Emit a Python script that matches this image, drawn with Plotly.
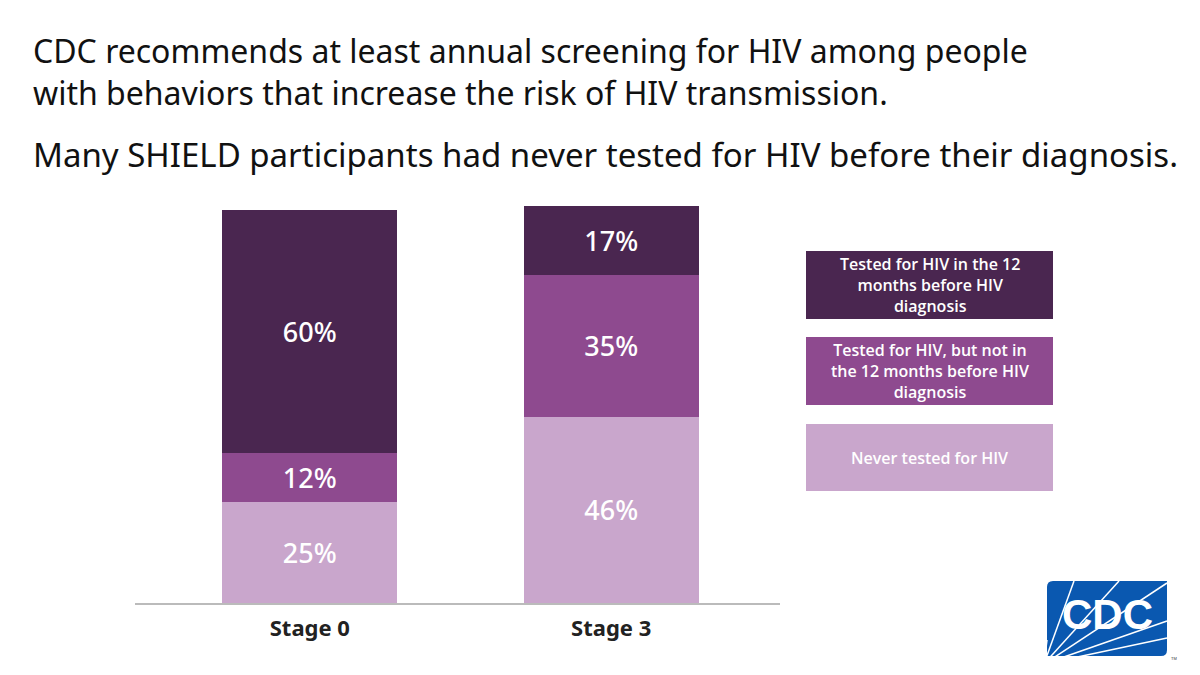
import plotly.graph_objects as go

categories = ["Stage 0", "Stage 3"]
series_names = [
    "Never tested for HIV",
    "Tested for HIV, but not in the 12 months before HIV diagnosis",
    "Tested for HIV in the 12 months before HIV diagnosis",
]
never_tested = [25, 46]
tested_not_12 = [12, 35]
tested_12 = [60, 17]
colors = ["#C9A6CC", "#8E4A8F", "#4A2650"]
legend_labels = [
    "Tested for HIV in the 12<br>months before HIV<br>diagnosis",
    "Tested for HIV, but not in<br>the 12 months before HIV<br>diagnosis",
    "Never tested for HIV",
]
legend_colors = ["#4A2650", "#8E4A8F", "#C9A6CC"]
title_main = "CDC recommends at least annual screening for HIV among people<br>with behaviors that increase the risk of HIV transmission."
title_sub = "Many SHIELD participants had never tested for HIV before their diagnosis."

W, H = 1200, 675
L, R, T, B = 135, 780, 200, 603

def px(x):
    return (x - L) / (R - L)

def py(y):
    return (B - y) / (B - T)

fig = go.Figure()
for name, vals, col in zip(series_names, [never_tested, tested_not_12, tested_12], colors):
    fig.add_trace(go.Bar(
        x=categories, y=vals, name=name, marker=dict(color=col, line=dict(width=0)),
        width=0.58, texttemplate="%{y}%", textposition="inside",
        insidetextanchor="middle", textangle=0,
        textfont=dict(color="white", size=27, family="Noto Sans", weight=500),
        hoverinfo="skip", showlegend=False,
    ))

shapes = []
annotations = []

# titles
annotations.append(dict(text=title_main, xref="paper", yref="paper", x=px(31), y=py(72),
                        xanchor="left", yanchor="middle", align="left", showarrow=False,
                        font=dict(family="Noto Sans", size=32, color="#111111")))
annotations.append(dict(text=title_sub, xref="paper", yref="paper", x=px(31), y=py(154),
                        xanchor="left", yanchor="middle", align="left", showarrow=False,
                        font=dict(family="Noto Sans", size=33, color="#111111")))

# legend boxes
boxes = [(251, 319), (337, 405), (424, 491)]
for (y0, y1), lab, col in zip(boxes, legend_labels, legend_colors):
    shapes.append(dict(type="rect", xref="paper", yref="paper", x0=px(806), x1=px(1053),
                       y0=py(y1), y1=py(y0), fillcolor=col, line=dict(width=0), layer="above"))
    annotations.append(dict(text=lab, xref="paper", yref="paper", x=px(929.5), y=py((y0 + y1) / 2),
                            xanchor="center", yanchor="middle", showarrow=False, align="center",
                            font=dict(family="Open Sans", size=16, color="white", weight=600)))

# CDC logo
lx0, lx1, ly0, ly1, r = 1047, 1167, 581, 656, 6
path = (f"M {px(lx0 + r)} {py(ly0)} L {px(lx1)} {py(ly0)} L {px(lx1)} {py(ly1 - r)} "
        f"Q {px(lx1)} {py(ly1)} {px(lx1 - r)} {py(ly1)} L {px(lx0)} {py(ly1)} L {px(lx0)} {py(ly0 + r)} "
        f"Q {px(lx0)} {py(ly0)} {px(lx0 + r)} {py(ly0)} Z")
shapes.append(dict(type="path", xref="paper", yref="paper", path=path,
                   fillcolor="#0A58B0", line=dict(width=0), layer="above"))
ox, oy = 1044, 664
for ex, ey in [(1074, 581), (1119, 581), (1167, 583), (1167, 621), (1167, 638), (1047, 640)]:
    t0 = 0.08
    sx, sy = ox + (ex - ox) * t0, oy + (ey - oy) * t0
    shapes.append(dict(type="line", xref="paper", yref="paper", x0=px(sx), y0=py(sy),
                       x1=px(ex), y1=py(ey), line=dict(color="white", width=1.5), layer="above"))
annotations.append(dict(text="<b>CDC</b>", xref="paper", yref="paper", x=px(1107), y=py(614),
                        xanchor="center", yanchor="middle", showarrow=False,
                        font=dict(family="Liberation Sans", size=42, color="white")))
annotations.append(dict(text="TM", xref="paper", yref="paper", x=px(1169), y=py(658),
                        xanchor="left", yanchor="middle", showarrow=False,
                        font=dict(family="Liberation Sans", size=4, color="#333333")))

fig.update_layout(
    width=W, height=H, barmode="stack", bargap=0.42,
    margin=dict(l=L, r=W - R, t=T, b=H - B, pad=0),
    paper_bgcolor="white", plot_bgcolor="white",
    shapes=shapes, annotations=annotations,
    xaxis=dict(range=[-0.58, 1.56], showline=True, linecolor="#BBBBBB", linewidth=2,
               ticks="", showgrid=False, zeroline=False,
               tickfont=dict(family="Noto Sans", size=22, color="#222222"),
               tickvals=[0, 1], ticktext=[f"<b>{c}</b>" for c in categories], ticklabelstandoff=5),
    yaxis=dict(range=[0, 99.5], visible=False, showgrid=False, zeroline=False),
    uniformtext=dict(mode="show", minsize=10),
)
fig.write_html("out.html")
